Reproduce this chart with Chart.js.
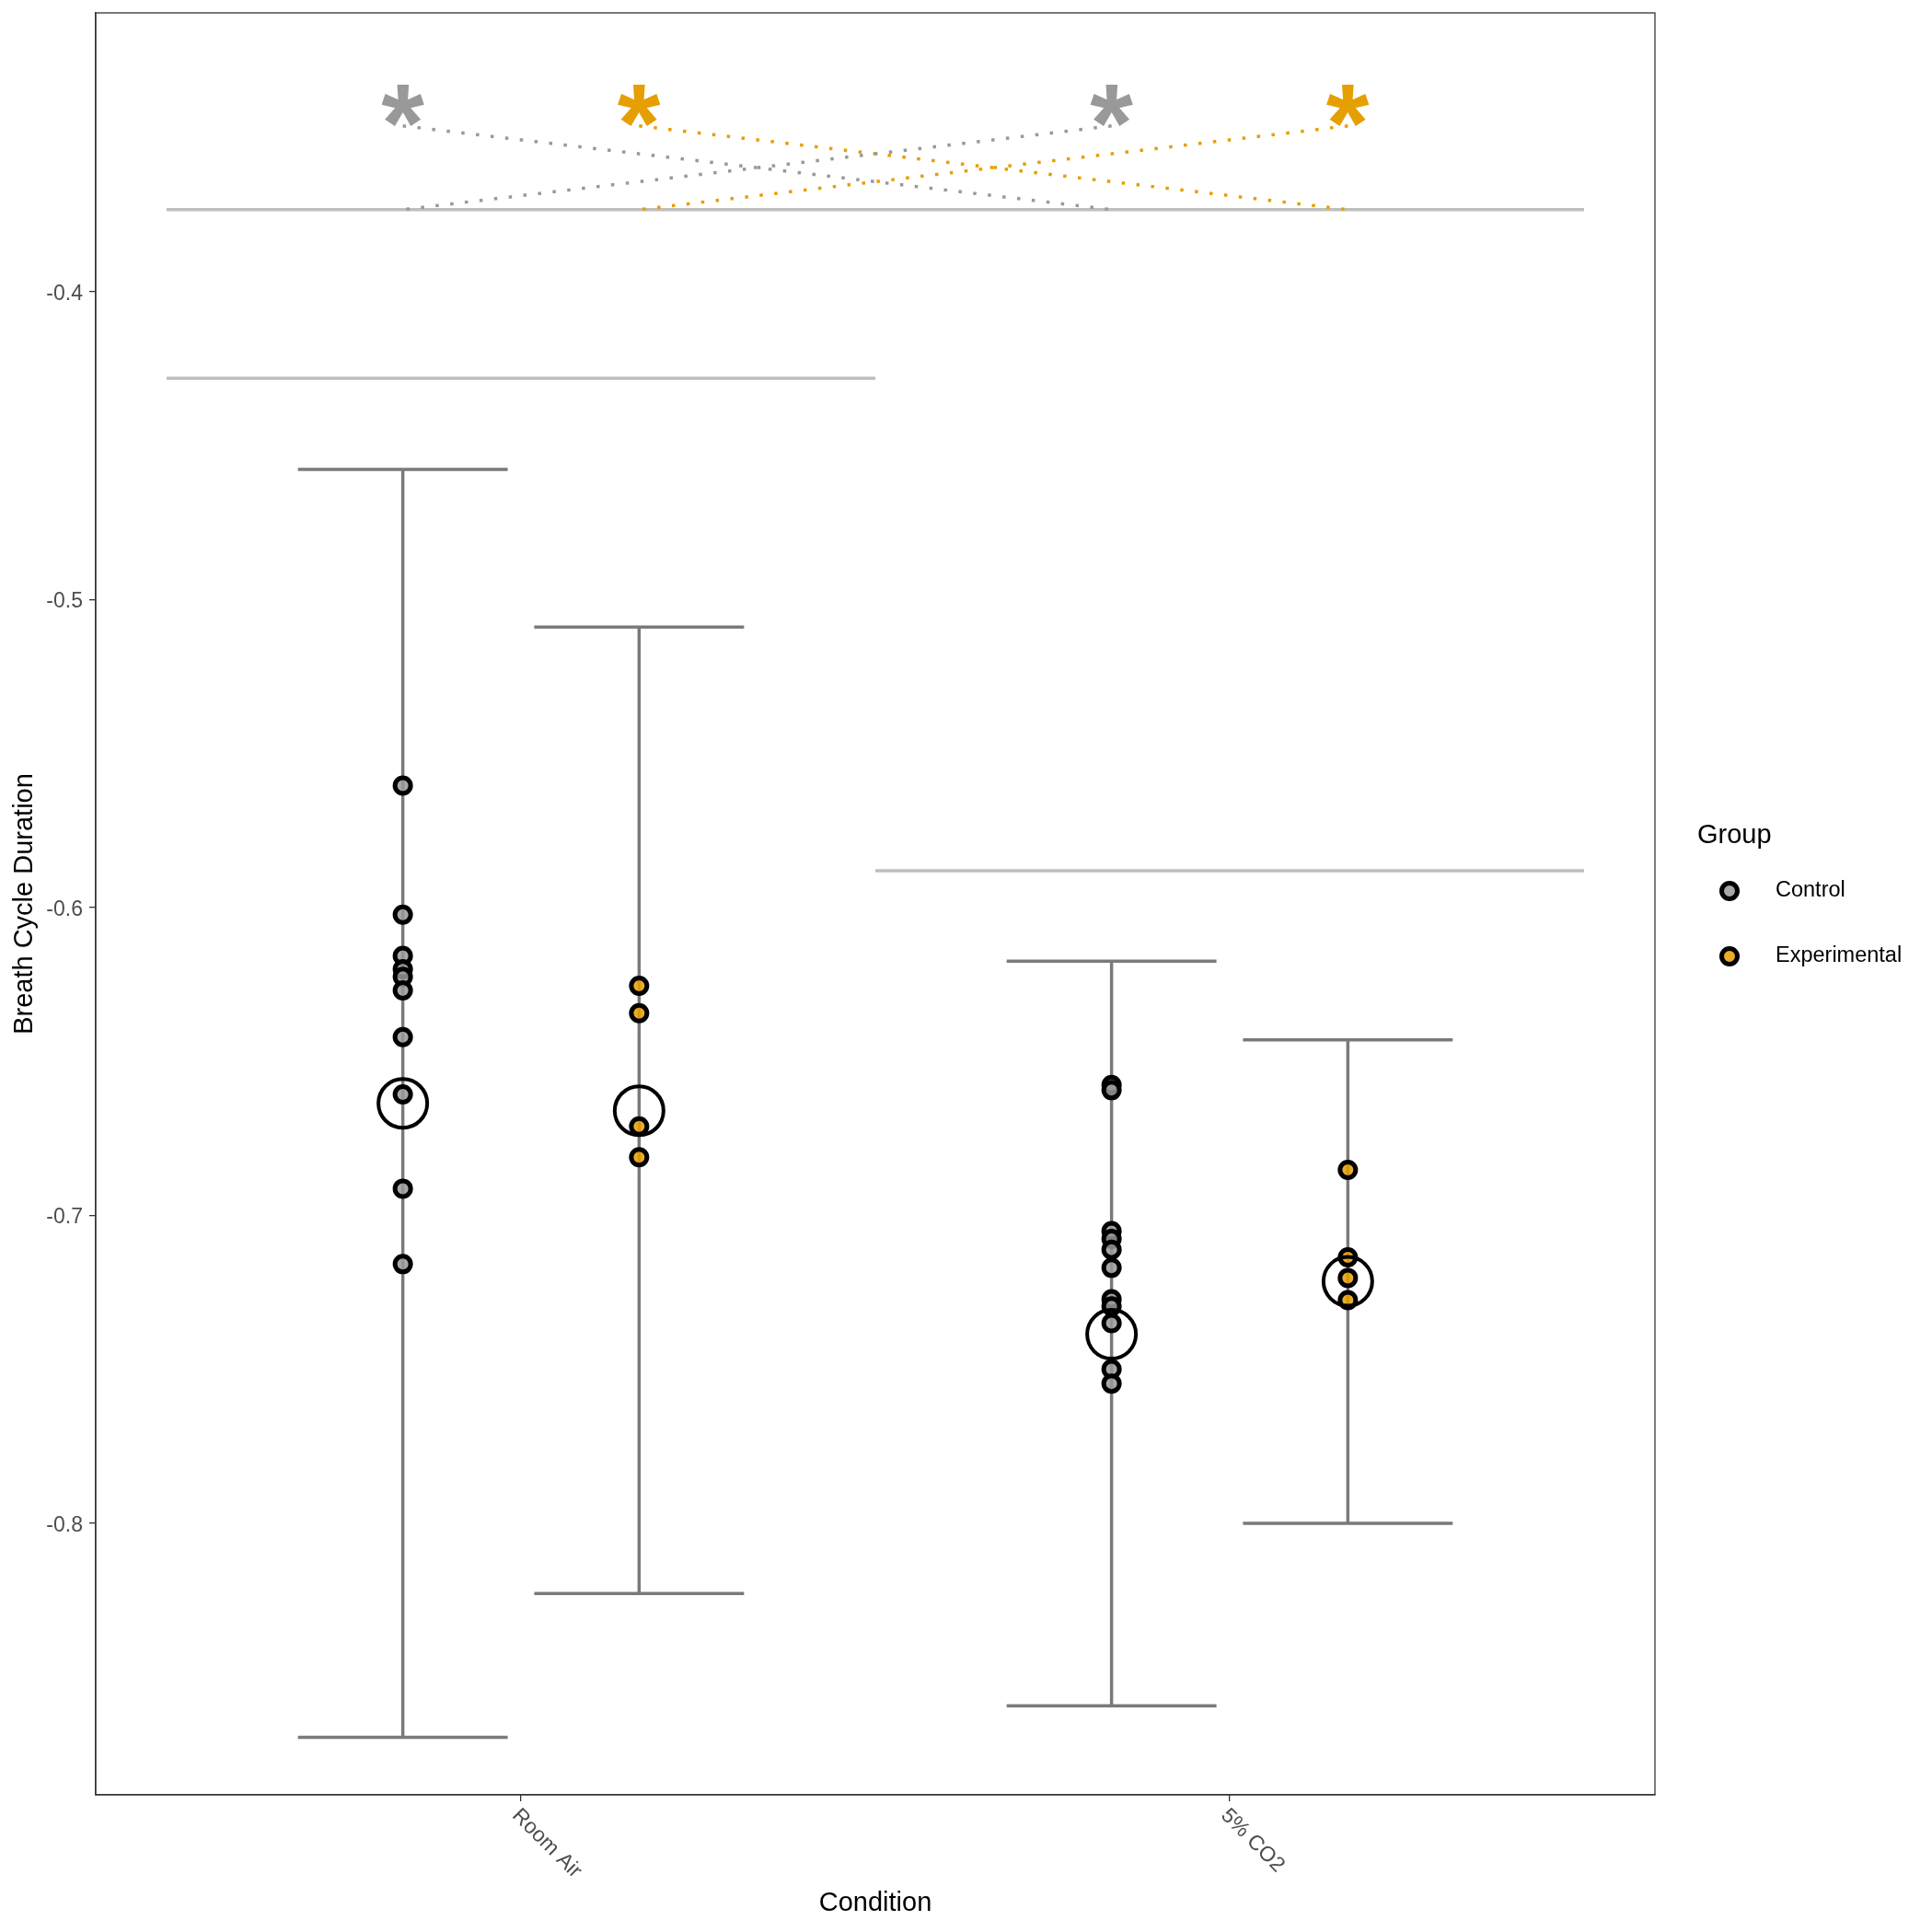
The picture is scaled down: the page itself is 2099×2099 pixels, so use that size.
<!DOCTYPE html>
<html>
<head>
<meta charset="utf-8">
<script src="https://cdn.jsdelivr.net/npm/chart.js@4.4.1/dist/chart.umd.min.js"></script>
<style>
  html, body { margin: 0; padding: 0; background: #ffffff; }
</style>
</head>
<body>
<canvas id="myChart" width="2099" height="2099"></canvas>
<script>
const categories = ['Room Air', '5% CO2'];
const groups = ['Control', 'Experimental'];
const groupColors = ['#999999', '#E69F00'];
const groupFills = ['rgba(153,153,153,0.85)', 'rgba(230,159,0,0.85)'];

// individual values per condition
const controlRoomAir = [-0.5604, -0.6023, -0.6157, -0.6200, -0.6225, -0.6269, -0.6421, -0.6607, -0.6913, -0.7158];
const experimentalRoomAir = [-0.6254, -0.6343, -0.6711, -0.6811];
const controlCO2 = [-0.6576, -0.6593, -0.7051, -0.7076, -0.7111, -0.7170, -0.7272, -0.7295, -0.7350, -0.7499, -0.7546];
const experimentalCO2 = [-0.6852, -0.7136, -0.7203, -0.7275];

// means and error bars, [Room Air, 5% CO2]
const controlMean = [-0.6636, -0.7386];
const experimentalMean = [-0.6660, -0.7214];
const controlLow = [-0.8695, -0.8593];
const controlHigh = [-0.4577, -0.6174];
const experimentalLow = [-0.8228, -0.8000];
const experimentalHigh = [-0.5089, -0.6430];

// comparison lines
const refY = [-0.3733, -0.4281, -0.5880];
const refFrom = [0.5, 0.5, 1.5];
const refTo = [2.5, 1.5, 2.5];
const starY = -0.3393;
const linkTop = -0.3461;
const linkBottom = -0.3733;

const yTicks = [-0.8, -0.7, -0.6, -0.5, -0.4];

const dodge = [-0.1667, 0.1667];
const capHalf = 0.148;
const FONT = '"Liberation Sans", Arial, sans-serif';

const pointsByGroup = [[controlRoomAir, controlCO2], [experimentalRoomAir, experimentalCO2]];
const meansByGroup = [controlMean, experimentalMean];
const lowByGroup = [controlLow, experimentalLow];
const highByGroup = [controlHigh, experimentalHigh];

function xPos(c, g) { return c + 1 + dodge[g]; }

const datasets = [];

// dotted links between the stars and the top line
groups.forEach(function (name, g) {
    const a = xPos(0, g), b = xPos(1, g);
    datasets.push({
        data: [{x: a, y: linkTop}, {x: b, y: linkBottom}, {x: b, y: null}, {x: b, y: linkTop}, {x: a, y: linkBottom}],
        showLine: true, spanGaps: false, pointRadius: 0,
        borderColor: groupColors[g], borderWidth: 3.5, borderDash: [3.5, 12.5], borderCapStyle: 'butt'
    });
});

// mean circles
groups.forEach(function (name, g) {
    datasets.push({
        data: meansByGroup[g].map((v, c) => ({x: xPos(c, g), y: v})),
        pointRadius: 26.5, pointBorderWidth: 4, pointBorderColor: '#000000',
        pointBackgroundColor: 'rgba(0,0,0,0)'
    });
});

// raw points
groups.forEach(function (name, g) {
    const pts = [];
    pointsByGroup[g].forEach(function (vals, c) {
        vals.forEach(v => pts.push({x: xPos(c, g), y: v}));
    });
    datasets.push({
        label: name,
        data: pts,
        pointRadius: 8.5, pointBorderWidth: 5, pointBorderColor: '#000000',
        pointBackgroundColor: groupFills[g]
    });
});

// error bars
groups.forEach(function (name, g) {
    categories.forEach(function (cat, c) {
        const x = xPos(c, g), lo = lowByGroup[g][c], hi = highByGroup[g][c];
        datasets.push({
            data: [
                {x: x, y: lo}, {x: x, y: hi}, {x: x, y: null},
                {x: x - capHalf, y: hi}, {x: x + capHalf, y: hi}, {x: x + capHalf, y: null},
                {x: x - capHalf, y: lo}, {x: x + capHalf, y: lo}
            ],
            showLine: true, spanGaps: false, pointRadius: 0,
            borderColor: '#7a7a7a', borderWidth: 3.5
        });
    });
});

// horizontal comparison lines
refY.forEach(function (v, i) {
    datasets.push({
        data: [{x: refFrom[i], y: v}, {x: refTo[i], y: v}],
        showLine: true, pointRadius: 0,
        borderColor: '#bebebe', borderWidth: 3.5
    });
});

const decor = {
    id: 'decor',
    beforeDraw(chart) {
        const ctx = chart.ctx;
        ctx.save();
        ctx.fillStyle = '#ffffff';
        ctx.fillRect(0, 0, chart.width, chart.height);
        ctx.restore();
    },
    afterDraw(chart) {
        const ctx = chart.ctx;
        const area = chart.chartArea;
        const xs = chart.scales.x, ys = chart.scales.y;
        ctx.save();

        // panel border
        ctx.strokeStyle = '#333333';
        ctx.lineWidth = 1.3;
        ctx.strokeRect(area.left, area.top, area.right - area.left, area.bottom - area.top);

        // stars
        ctx.font = 'bold 120px ' + FONT;
        ctx.textAlign = 'left';
        ctx.textBaseline = 'alphabetic';
        const m = ctx.measureText('*');
        groups.forEach(function (name, g) {
            categories.forEach(function (cat, c) {
                const px = xs.getPixelForValue(xPos(c, g));
                const py = ys.getPixelForValue(starY);
                ctx.fillStyle = groupColors[g];
                ctx.fillText('*', px - (m.actualBoundingBoxRight - m.actualBoundingBoxLeft) / 2,
                    py - (m.actualBoundingBoxDescent - m.actualBoundingBoxAscent) / 2);
            });
        });

        // x tick labels, rotated
        ctx.font = '23px ' + FONT;
        ctx.fillStyle = '#4d4d4d';
        ctx.textBaseline = 'middle';
        categories.forEach(function (cat, c) {
            const px = xs.getPixelForValue(c + 1);
            ctx.save();
            ctx.translate(px - 6, area.bottom + 19);
            ctx.rotate(Math.PI / 4);
            ctx.fillText(cat, 0, 0);
            ctx.restore();
        });

        // axis titles
        ctx.font = '29px ' + FONT;
        ctx.fillStyle = '#000000';
        ctx.textAlign = 'center';
        ctx.fillText('Condition', (area.left + area.right) / 2, 2068);
        ctx.save();
        ctx.translate(27, (area.top + area.bottom) / 2);
        ctx.rotate(-Math.PI / 2);
        ctx.fillText('Breath Cycle Duration', 0, 0);
        ctx.restore();

        // legend
        ctx.textAlign = 'left';
        ctx.fillText('Group', 1844, 908);
        ctx.font = '23.5px ' + FONT;
        groups.forEach(function (name, g) {
            const cy = 968 + g * 71;
            ctx.beginPath();
            ctx.arc(1879, cy, 8.5, 0, Math.PI * 2);
            ctx.fillStyle = groupFills[g];
            ctx.fill();
            ctx.lineWidth = 5;
            ctx.strokeStyle = '#000000';
            ctx.stroke();
            ctx.fillStyle = '#000000';
            ctx.fillText(name, 1929, cy);
        });
        ctx.restore();
    }
};

function noPad(s) {
    s.paddingTop = 0;
    s.paddingBottom = 0;
    s.paddingLeft = 0;
    s.paddingRight = 0;
}

new Chart(document.getElementById('myChart'), {
    type: 'scatter',
    data: { datasets: datasets },
    plugins: [decor],
    options: {
        responsive: false,
        animation: false,
        devicePixelRatio: 1,
        layout: { autoPadding: false, padding: { top: 14, right: 301, left: 0, bottom: 0 } },
        plugins: {
            legend: { display: false },
            tooltip: { enabled: false }
        },
        scales: {
            x: {
                type: 'linear',
                min: 0.4,
                max: 2.6,
                afterBuildTicks: s => { s.ticks = [{value: 1}, {value: 2}]; },
                afterFit: s => { s.height = 149; noPad(s); },
                ticks: { display: false },
                grid: { drawOnChartArea: false, drawTicks: true, tickLength: 7, color: '#333333', lineWidth: 1.3 },
                border: { display: true, color: '#333333', width: 1.3 }
            },
            y: {
                type: 'linear',
                min: -0.8882,
                max: -0.3094,
                afterBuildTicks: s => { s.ticks = yTicks.map(v => ({value: v})); },
                afterFit: s => { s.width = 104; noPad(s); },
                ticks: {
                    callback: v => v.toFixed(1),
                    font: { family: FONT, size: 23 },
                    color: '#4d4d4d',
                    padding: 7,
                    labelOffset: 2.5
                },
                grid: { drawOnChartArea: false, drawTicks: true, tickLength: 7, color: '#333333', lineWidth: 1.3 },
                border: { display: true, color: '#333333', width: 1.3 }
            }
        }
    }
});
</script>
</body>
</html>
